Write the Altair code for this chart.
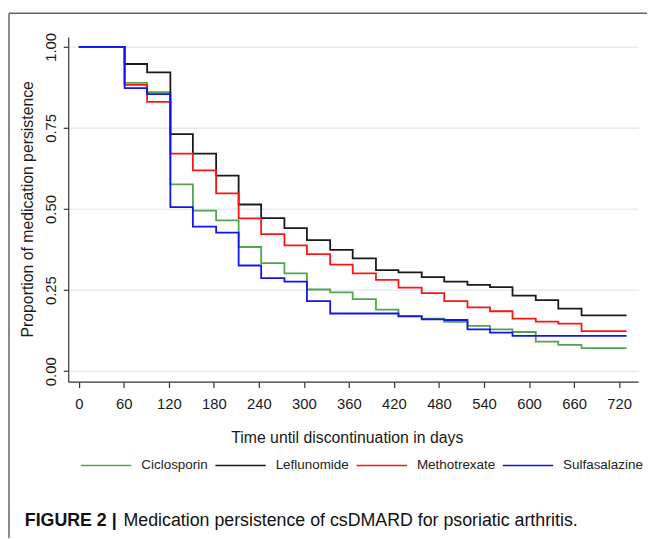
import altair as alt
import pandas as pd

# Time (days) at which the Kaplan-Meier steps occur; last entry is the end of follow-up
days = [0, 61, 91, 122, 152, 183, 213, 243, 274, 304, 335, 365, 396, 426, 457,
        487, 518, 548, 578, 609, 639, 670, 730]
ciclosporin = [1.0, 0.889, 0.860, 0.576, 0.495, 0.465, 0.383, 0.333, 0.302, 0.252,
               0.243, 0.222, 0.190, 0.171, 0.162, 0.152, 0.140, 0.129, 0.121, 0.091,
               0.081, 0.071, 0.071]
leflunomide = [1.0, 0.947, 0.921, 0.731, 0.671, 0.603, 0.514, 0.472, 0.441, 0.404,
               0.374, 0.348, 0.312, 0.305, 0.290, 0.276, 0.266, 0.259, 0.233, 0.219,
               0.193, 0.172, 0.172]
methotrexate = [1.0, 0.883, 0.830, 0.671, 0.619, 0.548, 0.471, 0.423, 0.388, 0.361,
                0.329, 0.302, 0.282, 0.258, 0.241, 0.216, 0.197, 0.185, 0.162, 0.153,
                0.147, 0.124, 0.124]
sulfasalazine = [1.0, 0.873, 0.854, 0.506, 0.446, 0.427, 0.326, 0.287, 0.276, 0.216,
                 0.178, 0.178, 0.178, 0.169, 0.160, 0.158, 0.129, 0.119, 0.109, 0.109,
                 0.109, 0.109, 0.109]

series_names = ["Ciclosporin", "Leflunomide", "Methotrexate", "Sulfasalazine"]
series_colors = ["#4fa64f", "#1a1a1a", "#ff1414", "#1414f0"]
x_ticks = [0, 60, 120, 180, 240, 300, 360, 420, 480, 540, 600, 660, 720]
y_ticks = [0.0, 0.25, 0.5, 0.75, 1.0]
x_title = "Time until discontinuation in days"
y_title = "Proportion of medication persistence"
caption_bold = ["FIGURE 2 |"]
caption_rest = ["Medication persistence of csDMARD for psoriatic arthritis."]

rows = []
for name, vals in zip(series_names, [ciclosporin, leflunomide, methotrexate, sulfasalazine]):
    for d, v in zip(days, vals):
        rows.append({"series": name, "day": d, "value": v})
df = pd.DataFrame(rows)

W, H = 577, 349
FONT = "Liberation Sans"

lines = alt.Chart(df).mark_line(interpolate="step-after", strokeWidth=1.8).encode(
    x=alt.X("day:Q",
            scale=alt.Scale(domain=[-14.1, 745.4], nice=False, zero=False),
            axis=alt.Axis(values=x_ticks, title=x_title, grid=False,
                          tickSize=6, labelPadding=9, labelFontSize=15,
                          titleFontSize=16, titleFontWeight="normal",
                          titleX=282, titleY=57, titleBaseline="middle",
                          labelFlush=False)),
    y=alt.Y("value:Q",
            scale=alt.Scale(domain=[-0.032, 1.0304], nice=False, zero=False),
            axis=alt.Axis(values=y_ticks, format=".2f", title=y_title, grid=True,
                          tickSize=5, labelAngle=270, labelAlign="center",
                          labelBaseline="bottom", labelPadding=5, labelFontSize=15,
                          titleFontSize=16, titleFontWeight="normal",
                          titleAngle=270, titleX=-41, titleY=174,
                          titleAlign="center", titleBaseline="middle",
                          labelFlush=False)),
    color=alt.Color("series:N",
                    scale=alt.Scale(domain=series_names, range=series_colors),
                    legend=alt.Legend(title=None, orient="none", legendX=12, legendY=407,
                                      direction="horizontal", columns=4,
                                      symbolType="stroke", symbolSize=2601,
                                      symbolStrokeWidth=1.6, labelFontSize=13.6,
                                      labelOffset=9, columnPadding=3,
                                      labelFont=FONT, labelColor="#222")),
)

frame_df = pd.DataFrame({"k": [0]})
frame_top = alt.Chart(frame_df).mark_rule(color="#666", strokeWidth=1.5).encode(
    x=alt.value(-60), x2=alt.value(W + 10), y=alt.value(-24))
frame_left = alt.Chart(frame_df).mark_rule(color="#666", strokeWidth=1.5).encode(
    x=alt.value(-60), y=alt.value(-24), y2=alt.value(H + 160))

cap1 = alt.Chart(pd.DataFrame({"t": caption_bold})).mark_text(
    align="left", baseline="alphabetic", font=FONT, fontSize=18, fontWeight="bold",
    color="#111").encode(x=alt.value(-44), y=alt.value(495), text="t:N")
cap2 = alt.Chart(pd.DataFrame({"t": caption_rest})).mark_text(
    align="left", baseline="alphabetic", font=FONT, fontSize=18,
    color="#111").encode(x=alt.value(56), y=alt.value(495), text="t:N")

chart = alt.layer(lines, frame_top, frame_left, cap1, cap2).properties(
    width=W, height=H,
    autosize=alt.AutoSizeParams(type="none"),
    padding={"left": 61, "top": 26, "right": 9, "bottom": 155},
).configure_view(stroke=None).configure_axis(
    labelFont=FONT, titleFont=FONT, labelColor="#1a1a1a", titleColor="#1a1a1a",
    domainColor="#333", tickColor="#333", domainWidth=1.2, tickWidth=1.2,
    gridColor="#e6ecf3", gridWidth=1.5,
)

chart.save("out.html", embed_options={"renderer": "svg", "actions": False})
